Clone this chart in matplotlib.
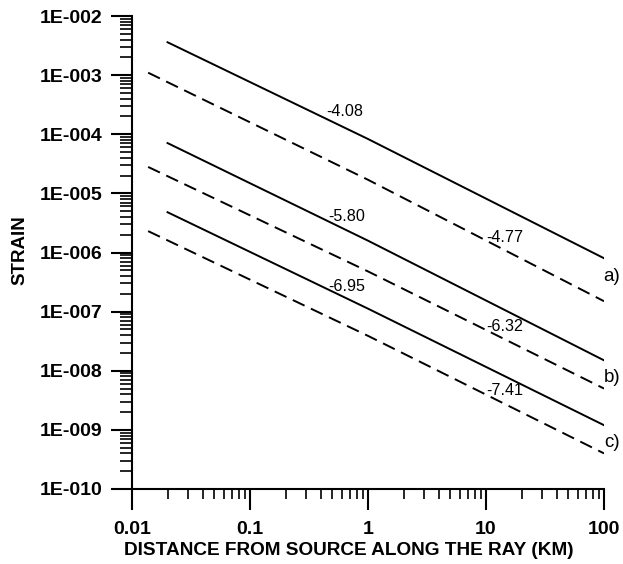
import matplotlib
matplotlib.use("Agg")
import matplotlib.pyplot as plt
import numpy as np
from matplotlib.ticker import LogLocator, FixedLocator, NullFormatter

plt.rcParams['font.family'] = ['Liberation Sans', 'DejaVu Sans']

# distances (km) and strain
x_solid = [0.02, 1, 100]
x_dash = [0.0137, 1, 100]

a_solid = [3.6e-3, 10**-4.08, 8.0e-7]
a_dash = [1.1e-3, 10**-4.77, 1.5e-7]
b_solid = [7.1e-5, 10**-5.80, 1.5e-8]
b_dash = [2.8e-5, 10**-6.32, 5.0e-9]
c_solid = [4.8e-6, 10**-6.95, 1.2e-9]
c_dash = [2.3e-6, 10**-7.41, 4.0e-10]

# line annotations: text, x, y
value_labels = ["-4.08", "-4.77", "-5.80", "-6.32", "-6.95", "-7.41"]
value_x = [0.64, 14.5, 0.66, 14.5, 0.66, 14.5]
value_y = [2.4e-4, 1.8e-6, 4.1e-6, 5.5e-8, 2.7e-7, 4.7e-9]

case_labels = ["a)", "b)", "c)"]
case_x = [117, 117, 117]
case_y = [4.0e-7, 7.8e-9, 6.2e-10]

x_ticks = [0.01, 0.1, 1, 10, 100]
x_ticklabels = ["0.01", "0.1", "1", "10", "100"]
y_ticks = [1e-10, 1e-9, 1e-8, 1e-7, 1e-6, 1e-5, 1e-4, 1e-3, 1e-2]
y_ticklabels = ["1E-010", "1E-009", "1E-008", "1E-007", "1E-006",
                "1E-005", "1E-004", "1E-003", "1E-002"]

fig = plt.figure(figsize=(6.23, 5.64), dpi=100)
ax = fig.add_axes([0.2119, 0.1330, 0.7576, 0.8386])

dash = (0, (6.7, 3.6))
lw = 1.4
for ys in [a_solid, b_solid, c_solid]:
    ax.plot(x_solid, ys, color='black', lw=lw)
for ys in [a_dash, b_dash, c_dash]:
    ax.plot(x_dash, ys, color='black', lw=lw, linestyle=dash)

ax.set_xscale('log')
ax.set_yscale('log')
ax.set_xlim(0.01, 100)
ax.set_ylim(1e-10, 1e-2)

for t, xx, yy in zip(value_labels, value_x, value_y):
    ax.text(xx, yy, t, fontsize=11.6, ha='center', va='center')
for t, xx, yy in zip(case_labels, case_x, case_y):
    ax.text(xx, yy, t, fontsize=13.5, ha='center', va='center', clip_on=False)

#only left and bottom spines
for side in ['top', 'right']:
    ax.spines[side].set_visible(False)
ax.spines['left'].set_linewidth(1.5)
ax.spines['bottom'].set_linewidth(1.5)

ax.xaxis.set_major_locator(FixedLocator(x_ticks))
ax.set_xticklabels(x_ticklabels)
ax.xaxis.set_minor_locator(LogLocator(base=10, subs=np.arange(2, 10), numticks=20))
ax.xaxis.set_minor_formatter(NullFormatter())
ax.yaxis.set_major_locator(FixedLocator(y_ticks))
ax.set_yticklabels(y_ticklabels)
ax.yaxis.set_minor_locator(LogLocator(base=10, subs=np.arange(2, 10), numticks=20))
ax.yaxis.set_minor_formatter(NullFormatter())

ax.tick_params(axis='both', which='major', direction='out', length=15, width=1.5,
               labelsize=14)
ax.tick_params(axis='x', which='minor', direction='out', length=7.5, width=1.2)
ax.tick_params(axis='y', which='minor', direction='out', length=9, width=1.2)
ax.tick_params(axis='x', which='major', pad=8)
ax.tick_params(axis='y', which='major', pad=6)
for lab in ax.get_xticklabels() + ax.get_yticklabels():
    lab.set_fontweight('bold')

ax.set_xlabel("DISTANCE FROM SOURCE ALONG THE RAY (KM)", fontsize=13.7, fontweight='bold')
ax.xaxis.set_label_coords(0.46, -0.131)
ax.set_ylabel("STRAIN", fontsize=13.5, fontweight='bold')
ax.yaxis.set_label_coords(-0.237, 0.505)
ax.xaxis.label.set_va('center')
ax.yaxis.label.set_va('center')

fig.savefig("out.png", dpi=100)
